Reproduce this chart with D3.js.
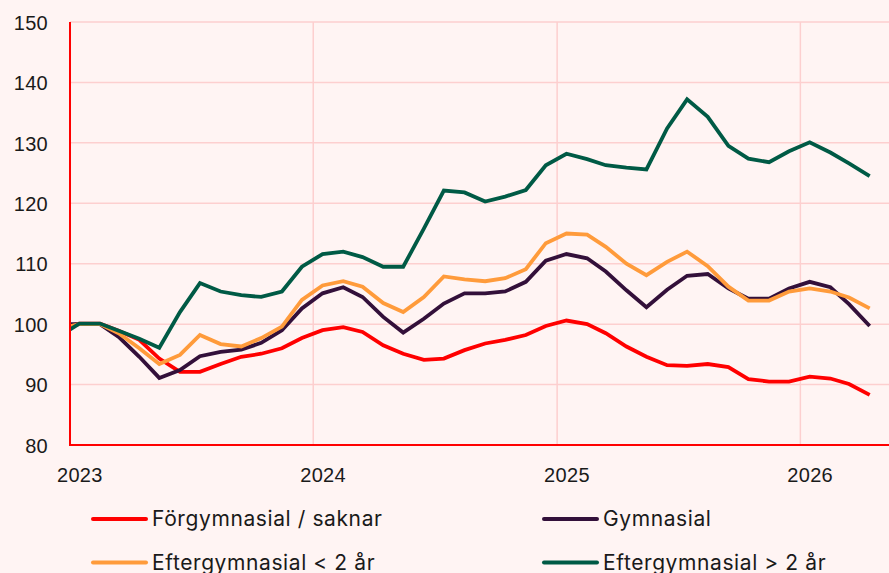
<!DOCTYPE html>
<meta charset="utf-8">
<style>
body {
    margin: 0;
    background: #fff4f3;
}
svg {
    display: block;
    font-family: Inter, "Noto Sans", sans-serif;
}
.grid line {
    stroke: #fdcfcf;
    stroke-width: 1.5;
}
.axis path,
.axis line {
    display: none;
}
.axis text {
    font-size: 20px;
    letter-spacing: 0.3px;
    fill: #1a1a1a;
}
.legend text {
    font-size: 21px;
    letter-spacing: 0.6px;
    fill: #1a1a1a;
}
</style>

<body>
    <div id="chart-container"></div>
    <script src="https://cdnjs.cloudflare.com/ajax/libs/d3/7.8.5/d3.min.js"></script>
    <script>
    // monthly index, december 2022 to april 2026 (points sit mid-month)
    var months = ["2022-12",
        "2023-01", "2023-02", "2023-03", "2023-04", "2023-05", "2023-06", "2023-07", "2023-08", "2023-09", "2023-10", "2023-11", "2023-12",
        "2024-01", "2024-02", "2024-03", "2024-04", "2024-05", "2024-06", "2024-07", "2024-08", "2024-09", "2024-10", "2024-11", "2024-12",
        "2025-01", "2025-02", "2025-03", "2025-04", "2025-05", "2025-06", "2025-07", "2025-08", "2025-09", "2025-10", "2025-11", "2025-12",
        "2026-01", "2026-02", "2026-03", "2026-04"];

    var forgymnasial = [99.3,
        100.1, 100.1, 98.9, 97.4, 94.3, 92.1, 92.1, 93.4, 94.6, 95.1, 96.0, 97.7,
        99.0, 99.5, 98.7, 96.5, 95.1, 94.1, 94.3, 95.7, 96.8, 97.4, 98.2, 99.7,
        100.6, 100.0, 98.5, 96.3, 94.6, 93.2, 93.1, 93.4, 92.9, 90.9, 90.5, 90.5,
        91.3, 91.0, 90.1, 88.3];

    var gymnasial = [100.0,
        100.0, 100.0, 97.9, 94.6, 91.1, 92.4, 94.7, 95.4, 95.8, 96.9, 99.0, 102.6,
        105.1, 106.1, 104.5, 101.2, 98.6, 100.9, 103.4, 105.1, 105.1, 105.4, 107.0, 110.5,
        111.6, 110.9, 108.7, 105.6, 102.8, 105.7, 108.0, 108.3, 105.9, 104.2, 104.2, 105.9,
        107.0, 106.1, 103.3, 99.7];

    var efterKort = [99.2,
        100.0, 100.0, 98.5, 96.0, 93.4, 94.9, 98.2, 96.7, 96.3, 97.7, 99.6, 104.0,
        106.4, 107.1, 106.2, 103.5, 102.0, 104.5, 107.9, 107.4, 107.1, 107.6, 109.1, 113.4,
        115.0, 114.8, 112.8, 110.0, 108.1, 110.3, 112.0, 109.6, 106.2, 103.9, 103.9, 105.4,
        105.9, 105.4, 104.4, 102.6];

    var efterLang = [97.9,
        100.1, 100.1, 98.9, 97.6, 96.1, 102.0, 106.8, 105.4, 104.8, 104.5, 105.4, 109.5,
        111.6, 112.0, 111.1, 109.5, 109.5, 115.8, 122.1, 121.8, 120.3, 121.1, 122.2, 126.3,
        128.2, 127.3, 126.3, 125.9, 125.6, 132.4, 137.2, 134.3, 129.5, 127.4, 126.8, 128.6,
        130.1, 128.4, 126.6, 124.5];

    var seriesNames = ["Förgymnasial / saknar", "Gymnasial", "Eftergymnasial < 2 år", "Eftergymnasial > 2 år"];
    var seriesColors = ["#ff0000", "#33103a", "#ff9b3b", "#005a45"];
    var yTicks = [80, 90, 100, 110, 120, 130, 140, 150];
    var yearTicks = [2023, 2024, 2025, 2026];

    var width = 889,
        height = 573,
        margin = { top: 22, right: 0, bottom: 128, left: 70 };

    var parseMonth = d3.timeParse("%Y-%m");
    var dates = months.map(function(m) { return d3.timeDay.offset(parseMonth(m), 14); });

    var series = [forgymnasial, gymnasial, efterKort, efterLang].map(function(vals, i) {
        return {
            name: seriesNames[i],
            color: seriesColors[i],
            values: vals.map(function(v, j) { return { date: dates[j], value: v }; })
        };
    });

    var svg = d3.select("#chart-container").append("svg")
        .attr("width", width)
        .attr("height", height);

    var xScale = d3.scaleTime()
        .domain([new Date(2023, 0, 1), new Date(2026, 4, 14)])
        .range([margin.left, width - margin.right]);

    var yScale = d3.scaleLinear()
        .domain([80, 150])
        .range([height - margin.bottom, margin.top]);

    // grid
    var grid = svg.append("g").attr("class", "grid");
    grid.selectAll(".h").data(yTicks).enter().append("line")
        .attr("x1", margin.left).attr("x2", width)
        .attr("y1", function(d) { return yScale(d); })
        .attr("y2", function(d) { return yScale(d); });
    grid.selectAll(".v").data(yearTicks.slice(1)).enter().append("line")
        .attr("x1", function(d) { return xScale(new Date(d, 0, 1)); })
        .attr("x2", function(d) { return xScale(new Date(d, 0, 1)); })
        .attr("y1", margin.top).attr("y2", yScale(80));

    // axes: labels only, the red frame lines are drawn separately
    var yAxis = d3.axisLeft(yScale).tickValues(yTicks).tickSize(0).tickPadding(22);
    svg.append("g")
        .attr("class", "axis")
        .attr("transform", "translate(" + margin.left + ",0)")
        .call(yAxis)
        .selectAll("text").attr("dy", "0.36em");

    var xAxis = d3.axisBottom(xScale)
        .tickValues(yearTicks.map(function(y) { return new Date(y, 0, 15); }))
        .tickFormat(d3.timeFormat("%Y"))
        .tickSize(0).tickPadding(23);
    svg.append("g")
        .attr("class", "axis")
        .attr("transform", "translate(0," + yScale(80) + ")")
        .call(xAxis);

    svg.append("defs").append("clipPath").attr("id", "plot-clip")
        .append("rect")
        .attr("x", margin.left).attr("y", 0)
        .attr("width", width - margin.left).attr("height", yScale(80));

    var line = d3.line()
        .x(function(d) { return xScale(d.date); })
        .y(function(d) { return yScale(d.value); });

    svg.append("g").attr("clip-path", "url(#plot-clip)")
        .selectAll("path").data(series).enter().append("path")
        .attr("fill", "none")
        .attr("stroke", function(d) { return d.color; })
        .attr("stroke-width", 3.8)
        .attr("stroke-linejoin", "miter")
        .attr("d", function(d) { return line(d.values); });

    // red frame on left and bottom
    svg.append("line")
        .attr("x1", margin.left).attr("x2", margin.left)
        .attr("y1", margin.top).attr("y2", yScale(80) + 1)
        .attr("stroke", "#ff0000").attr("stroke-width", 2);
    svg.append("line")
        .attr("x1", margin.left).attr("x2", width)
        .attr("y1", yScale(80)).attr("y2", yScale(80))
        .attr("stroke", "#ff0000").attr("stroke-width", 2);

    // legend, two columns
    var legend = svg.append("g").attr("class", "legend");
    var item = legend.selectAll("g").data(series).enter().append("g")
        .attr("transform", function(d, i) {
            return "translate(" + (i % 2 === 0 ? 93 : 544) + "," + (519 + Math.floor(i / 2) * 43.5) + ")";
        });
    item.append("line")
        .attr("x1", 0).attr("x2", 53)
        .attr("stroke", function(d) { return d.color; })
        .attr("stroke-width", 4)
        .attr("stroke-linecap", "round");
    item.append("text")
        .attr("x", 59)
        .attr("dy", "0.35em")
        .text(function(d) { return d.name; });
    </script>
</body>

</html>
